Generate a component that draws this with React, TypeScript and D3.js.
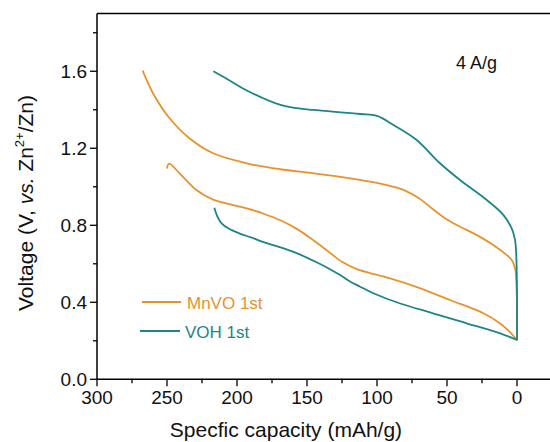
import React from "react";
import * as d3 from "d3";

const W = 550;
const H = 442;

// [capacity (mAh/g), voltage (V)]
const mnvoCharge: [number, number][] = [
  [0, 0.2], [0.2, 0.45], [0.7, 0.53], [1.4, 0.577], [4, 0.622], [7.4, 0.646], [17, 0.698],
  [31, 0.758], [40, 0.79], [50, 0.83], [60, 0.883], [70, 0.94], [80, 0.98], [90, 1.003],
  [100, 1.02], [119, 1.044], [145, 1.07], [169, 1.091], [193, 1.122], [217, 1.174],
  [234, 1.252], [249, 1.364], [260, 1.486], [267.4, 1.603],
];
const mnvoDischarge: [number, number][] = [
  [0, 0.204], [5, 0.245], [12, 0.29], [24, 0.343], [48, 0.412], [72, 0.48],
  [95, 0.533], [105, 0.552], [115, 0.574], [125, 0.61], [135, 0.665], [145, 0.72],
  [157, 0.78], [169, 0.826], [181, 0.86], [193, 0.888], [217, 0.933],
  [229, 0.983], [241, 1.07], [248.5, 1.12], [250, 1.095],
];
const vohCharge: [number, number][] = [
  [0, 0.204], [0, 0.45], [0.5, 0.637], [1.4, 0.724], [3.8, 0.784], [9.8, 0.854],
  [21.6, 0.931], [40.7, 1.035], [55, 1.122], [71.7, 1.243], [88.3, 1.321],
  [100, 1.368], [112, 1.378], [145.5, 1.399], [157, 1.408], [169, 1.425],
  [193, 1.5], [205, 1.551], [216.9, 1.6],
];
const vohDischarge: [number, number][] = [
  [0, 0.204], [12, 0.239], [36, 0.291], [60, 0.343], [84, 0.395], [102.6, 0.447],
  [112, 0.481], [119, 0.507], [126, 0.54], [133.6, 0.572], [141, 0.6],
  [157, 0.654], [170, 0.688], [181, 0.712], [190, 0.737], [198, 0.757], [206, 0.783],
  [211, 0.81], [214, 0.845], [216.2, 0.891],
];

const xTicks = [300, 250, 200, 150, 100, 50, 0];
const xMinor = [275, 225, 175, 125, 75, 25];
const yTicks = [0.0, 0.4, 0.8, 1.2, 1.6];
const yMinor = [0.2, 0.6, 1.0, 1.4, 1.8];

const ORANGE = "#E8922E";
const TEAL = "#1E8585";

export default function App() {
  const x = d3.scaleLinear().domain([300, 0]).range([97, 517]);
  const y = d3.scaleLinear().domain([0, 1.9]).range([379.3, 13.5]);
  const line = d3
    .line<[number, number]>()
    .x((d) => x(d[0]))
    .y((d) => y(d[1]))
    .curve(d3.curveCatmullRom.alpha(0.5));

  const font = "'Liberation Sans', Arial, sans-serif";
  const x0 = 97;
  const yB = 379.3;
  const yT = 13.5;

  return (
    <svg
      width={W}
      height={H}
      style={{ position: "absolute", left: 0, top: 0, background: "#fff" }}
      fontFamily={font}
    >
      <rect width={W} height={H} fill="#fff" />
      {/* curves */}
      <path d={line(mnvoCharge) || ""} fill="none" stroke={ORANGE} strokeWidth={1.8} />
      <path d={line(mnvoDischarge) || ""} fill="none" stroke={ORANGE} strokeWidth={1.8} />
      <path d={line(vohCharge) || ""} fill="none" stroke={TEAL} strokeWidth={1.8} />
      <path d={line(vohDischarge) || ""} fill="none" stroke={TEAL} strokeWidth={1.8} />

      {/* axes frame */}
      <line x1={x0} x2={W} y1={yB} y2={yB} stroke="#000" strokeWidth={1.5} />
      <line x1={x0} x2={W} y1={yT} y2={yT} stroke="#000" strokeWidth={1.5} />
      <line x1={x0} x2={x0} y1={yT} y2={yB} stroke="#000" strokeWidth={1.5} />

      {/* x ticks */}
      {xTicks.map((t) => (
        <g key={"xt" + t}>
          <line x1={x(t)} x2={x(t)} y1={yB} y2={yB + 7} stroke="#000" strokeWidth={1.3} />
          <text x={x(t)} y={yB + 25} fontSize={19} textAnchor="middle" fill="#111">
            {t}
          </text>
        </g>
      ))}
      {xMinor.map((t) => (
        <line key={"xm" + t} x1={x(t)} x2={x(t)} y1={yB} y2={yB + 4} stroke="#000" strokeWidth={1.3} />
      ))}

      {/* y ticks */}
      {yTicks.map((t) => (
        <g key={"yt" + t}>
          <line x1={x0 - 7} x2={x0} y1={y(t)} y2={y(t)} stroke="#000" strokeWidth={1.3} />
          <text x={x0 - 10} y={y(t) + 7} fontSize={19} textAnchor="end" fill="#111">
            {t.toFixed(1)}
          </text>
        </g>
      ))}
      {yMinor.map((t) => (
        <line key={"ym" + t} x1={x0 - 4} x2={x0} y1={y(t)} y2={y(t)} stroke="#000" strokeWidth={1.3} />
      ))}

      {/* axis titles */}
      <text x={(165 + 407) / 2} y={437} fontSize={21} textAnchor="middle" fill="#111">
        Specfic capacity (mAh/g)
      </text>
      <text
        transform="translate(33,203) rotate(-90)"
        fontSize={21}
        textAnchor="middle"
        fill="#111"
      >
        Voltage (V, <tspan fontStyle="italic">vs.</tspan> Zn
        <tspan fontSize={13} dy={-9}>2+</tspan>
        <tspan dy={9}>/Zn)</tspan>
      </text>

      {/* annotation */}
      <text x={456} y={69} fontSize={18} fill="#111">
        4 A/g
      </text>

      {/* legend */}
      <line x1={142} x2={181} y1={302} y2={302} stroke={ORANGE} strokeWidth={1.8} />
      <text x={187} y={309} fontSize={17} fill={ORANGE}>
        MnVO 1st
      </text>
      <line x1={140} x2={180} y1={331} y2={331} stroke={TEAL} strokeWidth={1.8} />
      <text x={185} y={338} fontSize={17} fill={TEAL}>
        VOH 1st
      </text>
    </svg>
  );
}
